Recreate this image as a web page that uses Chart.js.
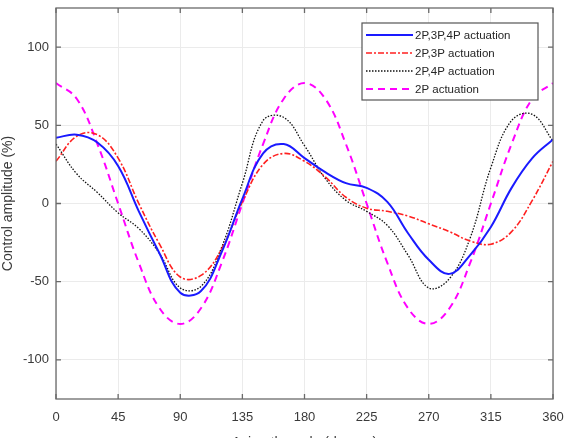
<!DOCTYPE html>
<html>
<head>
<meta charset="utf-8">
<script src="https://cdn.jsdelivr.net/npm/chart.js@4.4.1/dist/chart.umd.min.js"></script>
<style>
html, body { margin: 0; padding: 0; background: #fff; }
#wrap { width: 565px; height: 438px; }
</style>
</head>
<body>
<div id="wrap"><canvas id="chart" width="565" height="438"></canvas></div>
<script>
// azimuth samples (degree) every 15 deg
const angles = [0, 15, 30, 45, 60, 75, 90, 105, 120, 135, 150, 165, 180, 195, 210, 225, 240, 255, 270, 285, 300, 315, 330, 345, 360];
const xTicks = [0, 45, 90, 135, 180, 225, 270, 315, 360];
const yTicks = [-100, -50, 0, 50, 100];

const labels = ['2P,3P,4P actuation', '2P,3P actuation', '2P,4P actuation', '2P actuation'];

const act234 = [42, 44, 39, 24, -5, -32, -57, -56, -31, 3, 32, 38, 29, 20, 13, 10, 1, -19, -36, -45, -33, -15, 10, 29, 41];
const act23 = [27, 43, 44, 29, 0, -26, -47, -46, -29, 1, 25, 32, 27, 17, 4, -3, -5, -8, -13, -18, -24, -26, -18, 2, 27];
const act24 = [38, 19, 7, -6, -16, -32, -54, -53, -28, 13, 53, 55, 37, 16, 2, -5, -14, -33, -54, -48, -22, 23, 53, 57, 40];
const act2 = [77, 67, 38, 0, -38, -67, -77, -67, -38, 0, 38, 67, 77, 67, 38, 0, -38, -67, -77, -67, -38, 0, 38, 67, 77];

const FONT = "'Liberation Sans', Arial, sans-serif";

function pts(vals) {
    return vals.map((v, i) => ({ x: angles[i], y: v }));
}

// box round the axes with ticks pointing inwards
const boxPlugin = {
    id: 'box',
    afterDatasetsDraw(chart) {
        const { ctx, chartArea: a, scales } = chart;
        ctx.save();
        ctx.strokeStyle = '#6a6a6a';
        ctx.lineWidth = 1.3;
        ctx.strokeRect(a.left, a.top, a.right - a.left, a.bottom - a.top);
        ctx.beginPath();
        xTicks.forEach(v => {
            const px = scales.x.getPixelForValue(v);
            ctx.moveTo(px, a.bottom); ctx.lineTo(px, a.bottom - 5);
            ctx.moveTo(px, a.top); ctx.lineTo(px, a.top + 5);
        });
        yTicks.forEach(v => {
            const py = scales.y.getPixelForValue(v);
            ctx.moveTo(a.left, py); ctx.lineTo(a.left + 5, py);
            ctx.moveTo(a.right, py); ctx.lineTo(a.right - 5, py);
        });
        ctx.stroke();
        ctx.restore();
    }
};

// legend drawn inside the plot, top right
const legendPlugin = {
    id: 'insideLegend',
    afterDraw(chart) {
        const { ctx } = chart;
        const x0 = 362, y0 = 23, w = 176, h = 77;
        ctx.save();
        ctx.fillStyle = '#fff';
        ctx.fillRect(x0, y0, w, h);
        ctx.strokeStyle = '#555';
        ctx.lineWidth = 1.2;
        ctx.strokeRect(x0, y0, w, h);
        chart.data.datasets.forEach((ds, i) => {
            const y = y0 + 12 + i * 18;
            ctx.beginPath();
            ctx.setLineDash(ds.borderDash || []);
            ctx.strokeStyle = ds.borderColor;
            ctx.lineWidth = ds.borderWidth;
            ctx.moveTo(x0 + 4, y);
            ctx.lineTo(x0 + 51, y);
            ctx.stroke();
            ctx.setLineDash([]);
            ctx.fillStyle = '#262626';
            ctx.font = '11.5px ' + FONT;
            ctx.textBaseline = 'middle';
            ctx.fillText(ds.label, x0 + 53, y + 0.5);
        });
        ctx.restore();
    }
};

new Chart(document.getElementById('chart'), {
    type: 'line',
    data: {
        datasets: [
            { label: labels[0], data: pts(act234), borderColor: '#1a1aff', borderWidth: 2, borderDash: [] },
            { label: labels[1], data: pts(act23), borderColor: '#ff2020', borderWidth: 1.6, borderDash: [6, 2, 2, 2] },
            { label: labels[2], data: pts(act24), borderColor: '#111', borderWidth: 1.3, borderDash: [1.5, 1.5] },
            { label: labels[3], data: pts(act2), borderColor: '#ff00ff', borderWidth: 2, borderDash: [7, 5] }
        ]
    },
    options: {
        responsive: false,
        animation: false,
        layout: { padding: { top: 8, right: 12, left: 0, bottom: 0 } },
        elements: {
            point: { radius: 0 },
            line: { tension: 0.4, fill: false }
        },
        plugins: {
            legend: { display: false },
            tooltip: { enabled: false }
        },
        scales: {
            x: {
                type: 'linear',
                min: 0,
                max: 360,
                afterBuildTicks: s => { s.ticks = xTicks.map(v => ({ value: v })); },
                afterFit: s => { s.height = 39; s.paddingLeft = 0; s.paddingRight = 0; },
                grid: { color: '#ebebeb', drawTicks: false },
                border: { display: false },
                ticks: { color: '#3a3a3a', font: { family: FONT, size: 13 }, padding: 11, maxRotation: 0 },
                title: { display: true, text: 'Azimuth angle (degree)', color: '#3a3a3a', font: { family: FONT, size: 14 }, padding: { top: 0, bottom: -14 } }
            },
            y: {
                type: 'linear',
                min: -125,
                max: 125,
                afterBuildTicks: s => { s.ticks = yTicks.map(v => ({ value: v })); },
                afterFit: s => { s.width = 56; s.paddingTop = 0; s.paddingBottom = 0; },
                grid: { color: '#ebebeb', drawTicks: false },
                border: { display: false },
                ticks: { color: '#3a3a3a', font: { family: FONT, size: 13 }, padding: 7 },
                title: { display: true, text: 'Control amplitude (%)', color: '#3a3a3a', font: { family: FONT, size: 14 }, padding: { top: 0, bottom: 2 } }
            }
        }
    },
    plugins: [boxPlugin, legendPlugin]
});
</script>
</body>
</html>
